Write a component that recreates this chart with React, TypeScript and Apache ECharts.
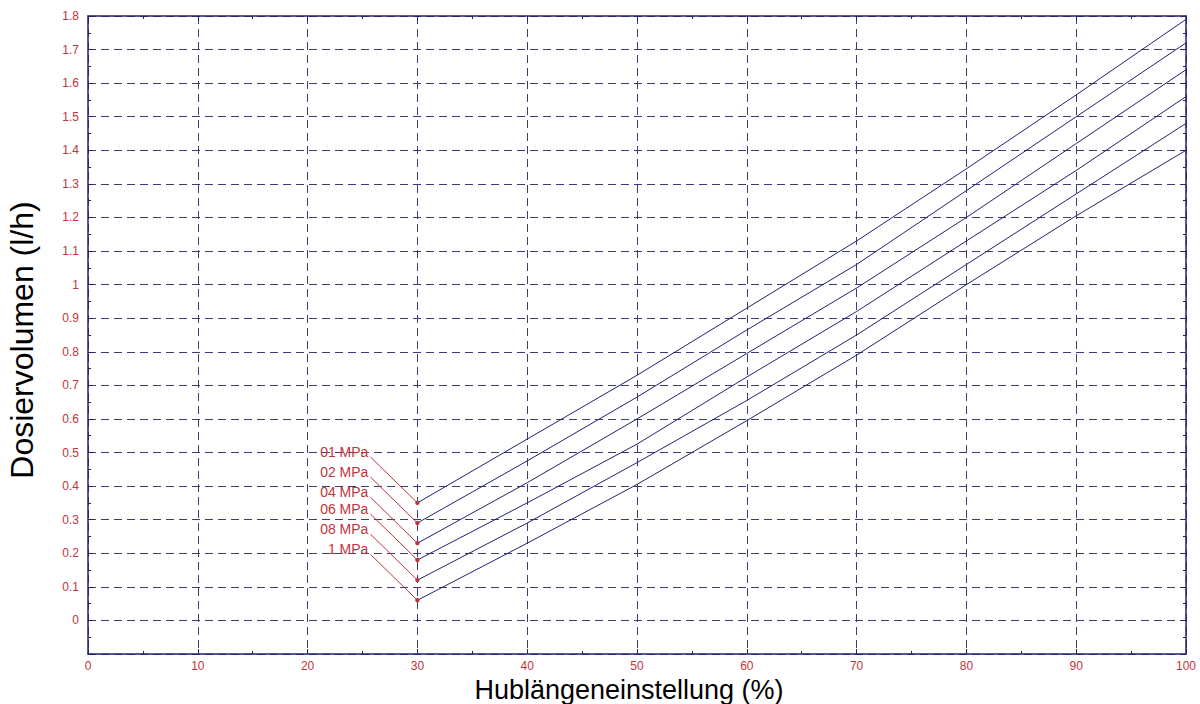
import React, { useEffect, useRef } from "react";
import * as echarts from "echarts";

const xValues = [30, 40, 50, 60, 70, 80, 90, 100];
const seriesNames = ["01 MPa", "02 MPa", "04 MPa", "06 MPa", "08 MPa", "1 MPa"];
const s01 = [0.35, 0.54, 0.73, 0.93, 1.13, 1.345, 1.565, 1.79];
const s02 = [0.29, 0.475, 0.665, 0.865, 1.06, 1.28, 1.5, 1.72];
const s04 = [0.23, 0.41, 0.6, 0.795, 0.99, 1.2, 1.42, 1.64];
const s06 = [0.18, 0.35, 0.525, 0.725, 0.92, 1.13, 1.34, 1.56];
const s08 = [0.12, 0.29, 0.47, 0.655, 0.85, 1.06, 1.27, 1.48];
const s1 = [0.06, 0.23, 0.405, 0.595, 0.79, 1.0, 1.205, 1.4];
const seriesValues = [s01, s02, s04, s06, s08, s1];

const xTitle = "Hublängeneinstellung (%)";
const yTitle = "Dosiervolumen (l/h)";

const NAVY = "#22226e";
const GRID = "#3c3c78";
const RED = "#c0353d";
const FONT = "Liberation Sans";

export default function App() {
  const ref = useRef<HTMLDivElement>(null);
  useEffect(() => {
    if (!ref.current) return;
    const chart = echarts.init(ref.current, null, { renderer: "svg" });

    const lineSeries = seriesValues.map((vals, i) => ({
      type: "line",
      name: seriesNames[i],
      data: xValues.map((x, j) => [x, vals[j]]),
      showSymbol: false,
      symbol: "none",
      lineStyle: { color: NAVY, width: 1 },
      z: 3,
    }));

    const labelSeries = {
      type: "custom",
      z: 5,
      data: seriesValues.map((vals, i) => ({
        name: seriesNames[i],
        value: [xValues[0], vals[0]],
      })),
      renderItem: (params: any, api: any) => {
        const p = api.coord([api.value(0), api.value(1)]);
        const name = seriesNames[params.dataIndex];
        return {
          type: "group",
          children: [
            {
              type: "line",
              shape: { x1: p[0] - 47, y1: p[1] - 46, x2: p[0], y2: p[1] },
              style: { stroke: RED, lineWidth: 1 },
            },
            {
              type: "circle",
              shape: { cx: p[0], cy: p[1], r: 2.2 },
              style: { fill: RED },
            },
            {
              type: "text",
              x: p[0] - 49,
              y: p[1] - 51,
              style: {
                text: name,
                fill: RED,
                fontSize: 14,
                fontFamily: FONT,
                align: "right",
                verticalAlign: "middle",
              },
            },
          ],
        };
      },
    };

    const tickCommon = {
      axisLine: { show: true, onZero: false, lineStyle: { color: NAVY, width: 1.5 } },
      axisTick: { show: true, inside: true, length: 5, lineStyle: { color: NAVY, width: 1 } },
      minorTick: { show: true, splitNumber: 2, length: 3, lineStyle: { color: NAVY, width: 1 } },
    };

    chart.setOption({
      animation: false,
      backgroundColor: "#ffffff",
      grid: { left: 88, right: 14, top: 16, bottom: 50, containLabel: false },
      graphic: [
        {
          type: "text",
          x: 629,
          y: 690,
          style: {
            text: xTitle,
            fill: "#000",
            fontSize: 27,
            fontFamily: FONT,
            align: "center",
            verticalAlign: "middle",
          },
        },
        {
          type: "text",
          x: 22,
          y: 340,
          rotation: Math.PI / 2,
          style: {
            text: yTitle,
            fill: "#000",
            fontSize: 32,
            fontFamily: FONT,
            align: "center",
            verticalAlign: "middle",
          },
        },
      ],
      xAxis: [
        {
          type: "value",
          position: "bottom",
          min: 0,
          max: 100,
          interval: 10,
          ...tickCommon,
          axisLabel: { color: RED, fontSize: 12, fontFamily: FONT, margin: 6 },
          splitLine: { show: true, lineStyle: { color: GRID, width: 1, type: [8, 5] } },
        },
        {
          type: "value",
          position: "top",
          min: 0,
          max: 100,
          interval: 10,
          ...tickCommon,
          axisLabel: { show: false },
          splitLine: { show: false },
        },
      ],
      yAxis: [
        {
          type: "value",
          position: "left",
          min: -0.1,
          max: 1.8,
          interval: 0.1,
          ...tickCommon,
          axisLabel: {
            color: RED,
            fontSize: 12,
            fontFamily: FONT,
            margin: 9,
            formatter: (v: number) => (v < -0.001 ? "" : String(Math.round(v * 10) / 10)),
          },
          splitLine: { show: true, lineStyle: { color: GRID, width: 1, type: [8, 5] } },
        },
        {
          type: "value",
          position: "right",
          min: -0.1,
          max: 1.8,
          interval: 0.1,
          ...tickCommon,
          axisLabel: { show: false },
          splitLine: { show: false },
        },
      ],
      series: [...lineSeries, labelSeries],
    });

    return () => chart.dispose();
  }, []);

  return (
    <div
      ref={ref}
      style={{ position: "fixed", left: 0, top: 0, width: "100vw", height: "100vh", background: "#fff" }}
    />
  );
}
